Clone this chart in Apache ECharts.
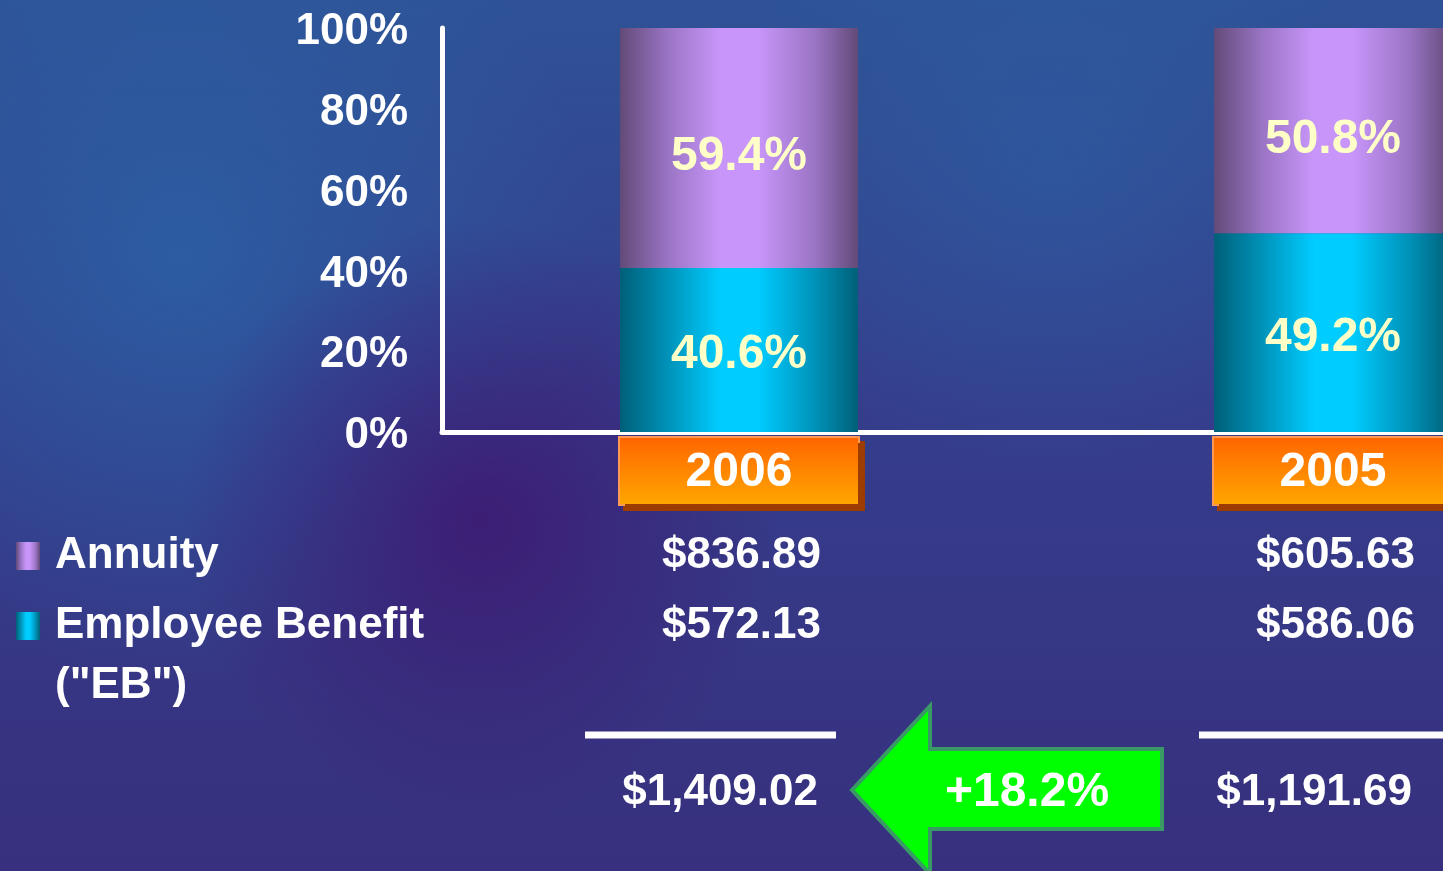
<!DOCTYPE html>
<html>
<head>
<meta charset="utf-8">
<title>Annuity vs Employee Benefit</title>
<script src="https://cdn.jsdelivr.net/npm/echarts@6/dist/echarts.min.js"></script>
<style>
  html, body { margin: 0; padding: 0; background: #363a88; }
  #chart { width: 1443px; height: 871px; }
</style>
</head>
<body>
<div id="chart"></div>
<script>
// 数据
const years = ['2006', '2005']
const ebShare = [40.6, 49.2]
const annuityShare = [59.4, 50.8]
const annuityAmt = ['$836.89', '$605.63']
const ebAmt = ['$572.13', '$586.06']
const totalAmt = ['$1,409.02', '$1,191.69']
const growthLabel = '+18.2%'

const FONT = '"Liberation Sans", Arial, sans-serif'

// 圆柱效果的横向渐变
function cylinder(edge, mid, center) {
  return new echarts.graphic.LinearGradient(0, 0, 1, 0, [
    { offset: 0, color: edge },
    { offset: 0.2, color: mid },
    { offset: 0.42, color: center },
    { offset: 0.58, color: center },
    { offset: 0.82, color: mid },
    { offset: 1, color: edge }
  ])
}

const chart = echarts.init(document.getElementById('chart'))

function barLabel(dy) {
  return {
    show: true,
    position: 'inside',
    offset: [0, dy],
    formatter: '{c}%',
    color: '#ffffc8',
    fontSize: 48,
    fontWeight: 'bold',
    fontFamily: FONT
  }
}

const legendText = {
  color: '#fff',
  fontSize: 44,
  fontWeight: 'bold',
  fontFamily: FONT,
  lineHeight: 60,
  padding: [0, 0, 0, 10]
}

chart.setOption({
  backgroundColor: '#363a88',
  animation: false,
  textStyle: { fontFamily: FONT },
  grid: {
    left: 442,
    top: 28,
    width: 1188, // 第二根柱子被画面右边裁掉
    height: 404,
    outerBoundsMode: 'none'
  },
  legend: [
    {
      orient: 'vertical',
      left: 16,
      top: 526,
      padding: 0,
      icon: 'rect',
      itemWidth: 24,
      itemHeight: 28,
      selectedMode: false,
      textStyle: legendText,
      data: ['Annuity']
    },
    {
      // 两行文字，前后补空行让第一行和图标对齐
      orient: 'vertical',
      left: 16,
      top: 476,
      padding: 0,
      icon: 'rect',
      itemWidth: 24,
      itemHeight: 28,
      selectedMode: false,
      formatter: function () {
        return '\n\nEmployee Benefit\n("EB")\n'
      },
      textStyle: legendText,
      data: ['Employee Benefit ("EB")']
    }
  ],
  xAxis: {
    type: 'category',
    data: years,
    axisLine: { lineStyle: { color: '#fff', width: 5 } },
    axisTick: { show: false },
    axisLabel: {
      margin: 6,
      color: '#fff',
      fontSize: 48,
      fontWeight: 'bold',
      fontFamily: FONT,
      width: 238,
      height: 66,
      lineHeight: 70,
      align: 'center',
      backgroundColor: new echarts.graphic.LinearGradient(0, 0, 0, 1, [
        { offset: 0, color: '#ff6400' },
        { offset: 1, color: '#ffa800' }
      ]),
      borderColor: '#ff9a55',
      borderWidth: 2,
      shadowColor: '#9c3c00',
      shadowOffsetX: 5,
      shadowOffsetY: 5
    }
  },
  yAxis: {
    type: 'value',
    min: 0,
    max: 100,
    interval: 20,
    axisLine: { show: true, lineStyle: { color: '#fff', width: 5, cap: 'round' } },
    axisTick: { show: false },
    splitLine: { show: false },
    axisLabel: {
      formatter: '{value}%',
      margin: 34,
      color: '#fff',
      fontSize: 44,
      fontWeight: 'bold',
      fontFamily: FONT,
      verticalAlign: 'top',
      lineHeight: 8
    }
  },
  series: [
    {
      name: 'Employee Benefit ("EB")',
      type: 'bar',
      stack: 'share',
      barWidth: 238,
      data: ebShare,
      itemStyle: { color: cylinder('#005f78', '#0092b8', '#00ccff') },
      label: barLabel(5)
    },
    {
      name: 'Annuity',
      type: 'bar',
      stack: 'share',
      barWidth: 238,
      data: annuityShare,
      itemStyle: { color: cylinder('#624a78', '#9a74c4', '#c896fa') },
      label: barLabel(9)
    }
  ]
})

// 表格部分：按类目轴位置放置金额
function moneyText(x, y, text) {
  return {
    type: 'text',
    x: x,
    y: y,
    z: 10,
    style: {
      text: text,
      fill: '#fff',
      font: 'bold 44px ' + FONT,
      align: 'right',
      verticalAlign: 'middle'
    }
  }
}

const graphics = [
  {
    type: 'rect',
    z: -20,
    silent: true,
    shape: { x: 0, y: 0, width: 1443, height: 871 },
    style: {
      fill: new echarts.graphic.LinearGradient(0, 0, 0, 1, [
        { offset: 0, color: '#2f5296' },
        { offset: 0.45, color: '#353e8c' },
        { offset: 1, color: '#37307e' }
      ])
    }
  },
  {
    type: 'circle',
    z: -19,
    silent: true,
    shape: { cx: 180, cy: 260, r: 420 },
    style: {
      fill: new echarts.graphic.RadialGradient(0.5, 0.5, 0.5, [
        { offset: 0, color: 'rgba(42,100,168,0.75)' },
        { offset: 1, color: 'rgba(42,100,168,0)' }
      ])
    }
  },
  {
    type: 'circle',
    z: -19,
    silent: true,
    shape: { cx: 480, cy: 520, r: 300 },
    style: {
      fill: new echarts.graphic.RadialGradient(0.5, 0.5, 0.5, [
        { offset: 0, color: 'rgba(62,22,112,0.8)' },
        { offset: 1, color: 'rgba(62,22,112,0)' }
      ])
    }
  },
  {
    type: 'circle',
    z: -19,
    silent: true,
    shape: { cx: 1050, cy: 160, r: 320 },
    style: {
      fill: new echarts.graphic.RadialGradient(0.5, 0.5, 0.5, [
        { offset: 0, color: 'rgba(44,96,164,0.55)' },
        { offset: 1, color: 'rgba(44,96,164,0)' }
      ])
    }
  }
]

// 合计上方横线的左右伸出量
const lineSpan = [[-154, 97], [-134, 120]]

years.forEach(function (yr, i) {
  const cx = chart.convertToPixel({ xAxisIndex: 0 }, yr)
  graphics.push(moneyText(cx + 82, 556, annuityAmt[i]))
  graphics.push(moneyText(cx + 82, 626, ebAmt[i]))
  graphics.push({
    type: 'line',
    z: 10,
    shape: { x1: cx + lineSpan[i][0], y1: 735, x2: cx + lineSpan[i][1], y2: 735 },
    style: { stroke: '#fff', lineWidth: 7 }
  })
  graphics.push(moneyText(cx + 79, 793, totalAmt[i]))
})

// 增长箭头
graphics.push({
  type: 'polygon',
  z: 10,
  shape: {
    points: [[852, 790], [930, 706], [930, 749], [1162, 749], [1162, 829], [930, 829], [930, 874]]
  },
  style: { fill: '#00ff00', stroke: '#3a9a66', lineWidth: 4 }
})
graphics.push({
  type: 'text',
  z: 11,
  x: 1027,
  y: 793,
  style: {
    text: growthLabel,
    fill: '#fff',
    font: 'bold 48px ' + FONT,
    align: 'center',
    verticalAlign: 'middle'
  }
})

chart.setOption({ graphic: graphics })
</script>
</body>
</html>
